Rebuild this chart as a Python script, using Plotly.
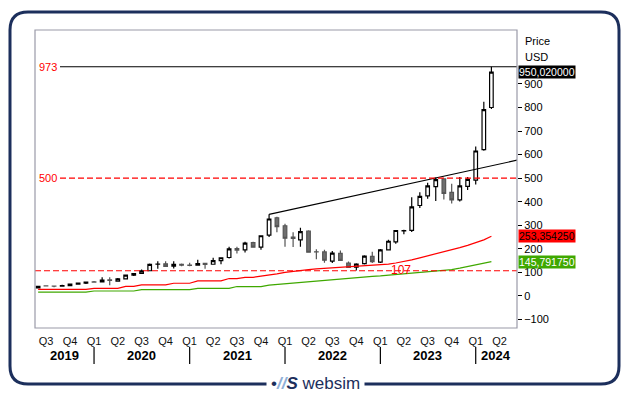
import plotly.graph_objects as go
import pandas as pd

# ---------------- data ----------------
months = ["2019-06", "2019-07", "2019-08", "2019-09", "2019-10", "2019-11", "2019-12",
          "2020-01", "2020-02", "2020-03", "2020-04", "2020-05", "2020-06", "2020-07",
          "2020-08", "2020-09", "2020-10", "2020-11", "2020-12",
          "2021-01", "2021-02", "2021-03", "2021-04", "2021-05", "2021-06", "2021-07",
          "2021-08", "2021-09", "2021-10", "2021-11", "2021-12",
          "2022-01", "2022-02", "2022-03", "2022-04", "2022-05", "2022-06", "2022-07",
          "2022-08", "2022-09", "2022-10", "2022-11", "2022-12",
          "2023-01", "2023-02", "2023-03", "2023-04", "2023-05", "2023-06", "2023-07",
          "2023-08", "2023-09", "2023-10", "2023-11", "2023-12",
          "2024-01", "2024-02", "2024-03"]

opens = [34.0, 42.8, 42.0, 41.3, 43.6, 50.5, 54.4,
         59.7, 59.4, 68.0, 63.3, 72.6, 87.9, 95.6, 107.0, 135.0, 136.6, 127.0, 134.3,
         131.0, 130.9, 138.4, 134.6, 150.4, 163.2, 201.0, 195.9, 226.0, 207.0, 258.0, 332.0,
         298.0, 250.0, 238.0, 275.0, 187.2, 187.0, 148.0, 181.0, 139.9, 122.7, 137.0, 168.0,
         144.0, 196.0, 230.0, 276.5, 278.0, 384.0, 425.0, 464.0, 497.0, 440.0, 408.0, 465.0,
         492.0, 621.0, 800.0]
highs = [41.3, 44.7, 42.9, 47.6, 51.0, 55.5, 60.2,
         63.7, 79.0, 79.0, 76.0, 90.9, 97.4, 111.8, 137.5, 147.3, 147.3, 147.3, 137.7,
         141.1, 154.2, 139.2, 161.7, 163.2, 208.8, 208.8, 230.4, 230.4, 257.0, 346.5, 336.0,
         307.0, 270.0, 289.5, 279.0, 198.0, 196.0, 191.0, 192.7, 146.0, 138.4, 173.0, 187.8,
         199.0, 238.9, 279.0, 281.0, 419.4, 439.9, 480.9, 502.7, 498.0, 476.0, 505.0, 505.5,
         634.9, 823.9, 973.0]
lows = [33.2, 40.3, 37.3, 40.5, 42.0, 49.5, 50.9,
        57.5, 58.0, 45.2, 62.2, 70.0, 84.7, 94.0, 106.2, 115.7, 124.6, 116.4, 126.3,
        125.7, 128.5, 115.7, 133.7, 134.6, 159.2, 180.5, 185.0, 206.1, 196.5, 250.0, 270.0,
        208.9, 208.0, 208.9, 185.0, 155.7, 140.6, 140.0, 149.0, 120.4, 108.1, 134.0, 140.0,
        140.0, 194.0, 222.0, 262.0, 272.0, 373.0, 413.0, 403.0, 409.0, 392.3, 401.0, 450.0,
        473.0, 616.0, 794.0]
closes = [41.0, 42.2, 41.9, 43.5, 50.3, 54.2, 58.8,
          59.1, 67.5, 65.9, 73.1, 88.8, 95.0, 106.2, 133.8, 135.3, 125.4, 134.0, 130.6,
          129.9, 137.1, 133.5, 150.1, 162.2, 200.0, 195.0, 223.9, 207.2, 255.7, 326.8, 294.1,
          244.9, 243.9, 272.9, 185.5, 186.7, 151.6, 181.6, 150.9, 121.4, 135.0, 169.2, 146.1,
          195.4, 232.2, 277.8, 277.5, 378.3, 423.0, 467.3, 493.6, 435.0, 407.8, 467.7, 495.2,
          615.3, 791.1, 950.02]

ma_red = [28, 28, 28, 28, 28, 28, 28, 32, 32, 32, 32, 41, 41, 47, 47, 47, 47, 54, 54, 54,
          64, 64, 64, 64, 74, 74, 79, 79, 84,
          88, 94, 100, 105, 110, 112, 115, 117, 119, 121, 122, 124, 126, 128, 131, 135, 140,
          146, 153, 162, 170, 178, 187, 196, 205, 215, 225, 238, 253.35425]
ma_green = [16, 16, 16, 16, 16, 16, 16, 21, 21, 21, 21, 21, 21, 27, 27, 27, 27, 27, 27, 27,
            32, 32, 32, 32, 32, 40, 40, 40, 40,
            46, 49, 51, 54, 58, 61, 63, 66, 69, 71, 74, 77, 80, 83, 85, 88, 91, 93, 96, 98,
            101, 104, 107, 112, 118, 125, 132, 139, 145.79175]

quarter_dates = ["2019-07-01", "2019-10-01", "2020-01-01", "2020-04-01", "2020-07-01",
                 "2020-10-01", "2021-01-01", "2021-04-01", "2021-07-01", "2021-10-01",
                 "2022-01-01", "2022-04-01", "2022-07-01", "2022-10-01", "2023-01-01",
                 "2023-04-01", "2023-07-01", "2023-10-01", "2024-01-01", "2024-04-01"]
quarter_labels = ["Q3", "Q4", "Q1", "Q2", "Q3", "Q4", "Q1", "Q2", "Q3", "Q4",
                  "Q1", "Q2", "Q3", "Q4", "Q1", "Q2", "Q3", "Q4", "Q1", "Q2"]
years = ["2019", "2020", "2021", "2022", "2023", "2024"]
y_ticks = [-100, 0, 100, 200, 300, 400, 500, 600, 700, 800, 900]

level_top = 973
level_mid = 500
level_low = 107
last_price = 950.02
trend_dates = ["2021-11-01", "2024-07-01"]
trend_values = [346.5, 582.0]

x_range = ["2019-05-20", "2024-06-07"]
y_range = [-136, 1129]

# ---------------- layout helpers ----------------
W, H = 629, 395
L, R, T, B = 35, 517, 30, 328
PW, PH = R - L, B - T


def px(x):
    return (x - L) / PW


def py(y):
    return (B - y) / PH


FONT = "Arial, Liberation Sans, sans-serif"
NAVY = "#1c2f5c"
RED = "#ff0000"
GREEN = "#3fa800"

xdates = [m + "-01" for m in months]

fig = go.Figure()

fig.add_trace(go.Scatter(x=xdates, y=ma_green, mode="lines",
                         line=dict(color=GREEN, width=1.2), hoverinfo="skip"))
fig.add_trace(go.Scatter(x=xdates, y=ma_red, mode="lines",
                         line=dict(color=RED, width=1.2), hoverinfo="skip"))
fig.add_trace(go.Scatter(x=trend_dates, y=trend_values, mode="lines",
                         line=dict(color="black", width=1.2), hoverinfo="skip"))

fig.add_trace(go.Candlestick(
    x=xdates, open=opens, high=highs, low=lows, close=closes,
    increasing=dict(fillcolor="white", line=dict(color="black", width=1.2)),
    decreasing=dict(fillcolor="#6e6e6e", line=dict(color="#555555", width=1.2)),
    whiskerwidth=0,
))

shapes = []
shapes.append(dict(type="line", xref="paper", yref="y", x0=px(60), x1=1,
                   y0=level_top, y1=level_top, line=dict(color="black", width=1.2)))
shapes.append(dict(type="line", xref="paper", yref="y", x0=px(60), x1=1,
                   y0=level_mid, y1=level_mid, line=dict(color=RED, width=1.2, dash="6px,3px")))
shapes.append(dict(type="line", xref="paper", yref="y", x0=0, x1=1,
                   y0=level_low, y1=level_low, line=dict(color=RED, width=1.2, dash="6px,3px")))
shapes.append(dict(type="rect", xref="paper", yref="paper", x0=0, x1=1, y0=0, y1=1,
                   line=dict(color="#9a9aa8", width=1.2), layer="above"))
for yv in years[1:]:
    shapes.append(dict(type="line", xref="x", yref="paper", x0=yv + "-01-01", x1=yv + "-01-01",
                       y0=py(347), y1=py(364), line=dict(color="black", width=1.2)))

# outer rounded card
x0, y0, x1, y1, r = 10, 12, 619, 384, 18
pts = [
    ("M", x0 + r, y0), ("L", x1 - r, y0), ("Q", x1, y0, x1, y0 + r),
    ("L", x1, y1 - r), ("Q", x1, y1, x1 - r, y1), ("L", x0 + r, y1),
    ("Q", x0, y1, x0, y1 - r), ("L", x0, y0 + r), ("Q", x0, y0, x0 + r, y0),
]
path = ""
for p in pts:
    if p[0] == "Q":
        path += f"Q{px(p[1]):.5f},{py(p[2]):.5f} {px(p[3]):.5f},{py(p[4]):.5f} "
    else:
        path += f"{p[0]}{px(p[1]):.5f},{py(p[2]):.5f} "
path += "Z"
shapes.append(dict(type="path", xref="paper", yref="paper", path=path,
                   line=dict(color=NAVY, width=3)))

annotations = []


def note(**kw):
    base = dict(showarrow=False, xanchor="center", yanchor="middle")
    base.update(kw)
    annotations.append(base)


note(xref="paper", yref="y", x=px(37), y=level_top, text=str(level_top), xanchor="left",
     font=dict(color=RED, size=11, family=FONT))
note(xref="paper", yref="y", x=px(37), y=level_mid, text=str(level_mid), xanchor="left",
     font=dict(color=RED, size=11, family=FONT))
note(xref="paper", yref="y", x=px(401), y=level_low, text=str(level_low), yshift=1,
     font=dict(color=RED, size=12, family=FONT))

xmin = pd.Timestamp(x_range[0])
xmax = pd.Timestamp(x_range[1])
for yv in years:
    a = max(pd.Timestamp(yv + "-01-01"), xmin)
    b = min(pd.Timestamp(str(int(yv) + 1) + "-01-01"), xmax)
    mid = a + (b - a) / 2
    note(xref="x", yref="paper", x=mid.strftime("%Y-%m-%d"), y=py(355),
         text="<b>" + yv + "</b>", font=dict(color="black", size=13, family=FONT))

note(xref="paper", yref="paper", x=px(523), y=py(41), text="Price", xanchor="left",
     font=dict(color="black", size=11, family=FONT))
note(xref="paper", yref="paper", x=px(523), y=py(57), text="USD", xanchor="left",
     font=dict(color="black", size=11, family=FONT))


def fmt(v):
    return f"{v:.6f}".replace(".", ",")


for val, bg, fg in [(last_price, "black", "white"), (ma_red[-1], RED, "black"),
                    (ma_green[-1], GREEN, "white")]:
    note(xref="paper", yref="y", x=px(518), y=val, text=fmt(val), xanchor="left",
         bgcolor=bg, borderpad=0, font=dict(color=fg, size=10.5, family=FONT))

logo = ('<span style="color:#1c2f5c">•</span><i><span style="color:#8fb0d8"><b>//</b></span>'
        '<span style="color:#1c2f5c"><b>S</b></span></i> '
        '<span style="color:#1c2f5c">websim</span>')
note(xref="paper", yref="paper", x=px(315), y=py(383), text=logo,
     bgcolor="white", borderpad=4, font=dict(size=17, family=FONT))

fig.update_layout(
    width=W, height=H,
    margin=dict(l=L, r=W - R, t=T, b=H - B, pad=0),
    paper_bgcolor="white", plot_bgcolor="white",
    showlegend=False,
    shapes=shapes, annotations=annotations,
    font=dict(family=FONT, size=11, color="black"),
    xaxis=dict(type="date", range=x_range, tickvals=quarter_dates, ticktext=quarter_labels,
               showgrid=False, zeroline=False, showline=False, ticks="",
               ticklabelstandoff=5,
               rangeslider=dict(visible=False), tickfont=dict(size=11, color="#111")),
    yaxis=dict(side="right", range=y_range, tickvals=y_ticks, showgrid=False,
               zeroline=False, showline=False, ticks="outside", ticklen=4,
               tickcolor="black", tickfont=dict(size=11, color="black")),
)

fig.write_html("out.html",
               config={"displayModeBar": False},
               post_script="document.body.style.margin='0px';"
                           "document.body.style.overflow='hidden';")
